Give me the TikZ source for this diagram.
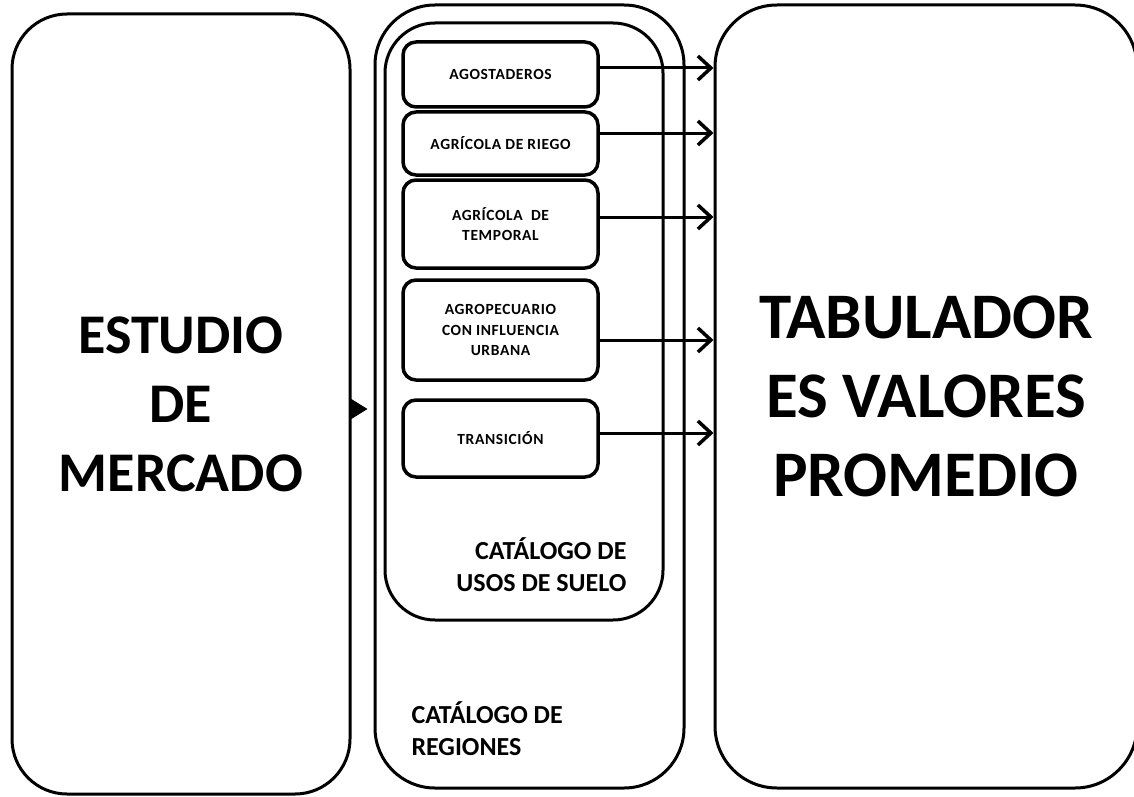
\documentclass[tikz,border=0pt]{standalone}
\usepackage{fontspec}
\setmainfont{Carlito}
\usetikzlibrary{arrows.meta}
\begin{document}
\begin{tikzpicture}[x=1pt,y=-1pt,
		every node/.style={rectangle,draw,line width=3pt,inner sep=0pt,align=center},
		bigbox/.style={rounded corners=55pt},
		usebox/.style={minimum width=195pt,rounded corners=13pt,line width=3.5pt,font=\bfseries\fontsize{15.5}{20.5}\selectfont\addfontfeature{LetterSpace=4}},
		tagtext/.style={draw=none,align=left,font=\bfseries\fontsize{26}{32}\selectfont},
		flow/.style={-{Straight Barb[length=13pt,width=24pt,line width=3.5pt]},line width=3pt}]
	\useasboundingbox (0,0) rectangle (1134,797);
	% left and right blocks
	\node[bigbox,minimum width=338pt,minimum height=780pt,font=\bfseries\fontsize{56}{69}\selectfont] (mercado) at (181,404)
		{ESTUDIO\\DE\\MERCADO};
	\node[bigbox,rounded corners=62pt,minimum width=422pt,minimum height=783pt,font=\bfseries\fontsize{65}{79}\selectfont] (tabulador) at (926,396.5)
		{TABULADOR\\ES VALORES\\PROMEDIO};
	% middle column
	\node[bigbox,rounded corners=60pt,minimum width=309pt,minimum height=783pt] (regiones) at (529.5,396.5) {};
	\node[bigbox,rounded corners=50pt,minimum width=278pt,minimum height=597pt] (usos) at (524,321.5) {};
	\node[tagtext,anchor=south west] (regtxt) at (410,757) {CATÁLOGO DE\\REGIONES};
	\node[tagtext,align=right,anchor=south east] (usostxt) at (628,593) {CATÁLOGO DE\\USOS DE SUELO};
	\node[usebox,minimum height=65pt] (agost) at (500.5,74.5) {AGOSTADEROS};
	\node[usebox,minimum height=63pt] (riego) at (500.5,143.5) {AGRÍCOLA DE RIEGO};
	\node[usebox,minimum height=88pt] (temporal) at (500.5,224) {AGRÍCOLA~~DE\\TEMPORAL};
	\node[usebox,minimum height=100pt] (agropec) at (500.5,330) {AGROPECUARIO\\CON INFLUENCIA\\URBANA};
	\node[usebox,minimum height=77pt] (transicion) at (500.5,438.5) {TRANSICIÓN};
	% arrows
	\draw[-{Triangle[length=18pt,width=22pt]},line width=1pt,shorten >=6pt] ([yshift=-5pt]mercado.east) -- ([yshift=-5pt]mercado.east -| regiones.west);
	\draw[flow] ([yshift=6.5pt]agost.east) -- ([yshift=6.5pt]agost.east -| tabulador.west);
	\draw[flow] ([yshift=10.5pt]riego.east) -- ([yshift=10.5pt]riego.east -| tabulador.west);
	\draw[flow] ([yshift=7pt]temporal.east) -- ([yshift=7pt]temporal.east -| tabulador.west);
	\draw[flow] ([yshift=-10pt]agropec.east) -- ([yshift=-10pt]agropec.east -| tabulador.west);
	\draw[flow] ([yshift=5.5pt]transicion.east) -- ([yshift=5.5pt]transicion.east -| tabulador.west);
\end{tikzpicture}
\end{document}
